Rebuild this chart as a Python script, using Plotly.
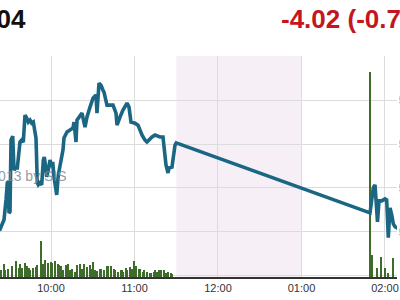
import plotly.graph_objects as go

DAY = "2013-01-07 "

# ---- data ----
price_times = [
    "09:23:00", "09:26:14", "09:27:40", "09:28:36", "09:29:19", "09:29:49", "09:30:32", "09:31:16",
    "09:32:29", "09:33:25", "09:34:51", "09:35:47", "09:37:43", "09:38:56", "09:40:05", "09:41:19",
    "09:42:32", "09:43:41", "09:44:55", "09:46:08", "09:47:17", "09:48:30", "09:49:13", "09:50:10",
    "09:50:52", "09:52:06", "09:53:19", "09:54:28", "09:55:11", "09:56:25", "09:56:55", "09:58:04",
    "09:59:17", "10:00:30", "10:01:13", "10:02:10", "10:02:52", "10:04:06", "10:05:15", "10:06:28",
    "10:07:41", "10:08:37", "10:09:20", "10:11:30", "10:13:39", "10:15:49", "10:16:32", "10:17:58",
    "10:18:41", "10:22:17", "10:24:26", "10:25:52", "10:28:02", "10:30:11", "10:32:20", "10:33:03",
    "10:34:30", "10:35:56", "10:37:22", "10:38:05", "10:40:14", "10:41:41", "10:44:33", "10:46:43",
    "10:47:26", "10:49:35", "10:51:44", "10:54:37", "10:56:03", "10:57:29", "11:00:22", "11:02:31",
    "11:05:23", "11:07:33", "11:08:59", "11:12:35", "11:14:44", "11:18:20", "11:20:29", "11:22:38",
    "11:24:05", "11:24:47", "11:26:57", "11:29:07", "11:30:00",
    "13:49:14", "13:50:27", "13:51:36", "13:52:50", "13:54:03", "13:54:37", "13:55:42", "13:57:38",
    "14:00:00", "14:01:14", "14:02:23", "14:03:37", "14:04:50", "14:05:59", "14:07:12", "14:08:51",
    "14:09:43",
]
price_values = [
    568.05, 568.55, 569.45, 570.23, 570.27, 568.86, 568.91, 572.18,
    572.36, 570.82, 570.91, 570.91, 572.09, 572.18, 572.09, 573.32,
    573.18, 573.00, 573.09, 572.95, 573.00, 572.50, 572.27, 570.23,
    570.14, 570.23, 570.14, 571.27, 571.41, 570.82, 570.50, 570.82,
    571.27, 570.95, 571.18, 570.50, 570.23, 569.68, 570.59, 571.05,
    571.36, 571.73, 572.27, 572.55, 572.64, 572.73, 573.00, 572.09,
    573.09, 573.41, 572.77, 573.23, 573.68, 574.09, 574.23, 573.41,
    574.77, 574.68, 574.45, 574.36, 573.77, 573.77, 573.77, 573.41,
    572.86, 573.23, 573.55, 573.86, 573.68, 573.00, 572.95, 572.86,
    572.41, 572.18, 572.09, 572.32, 572.41, 572.32, 572.32, 571.05,
    570.68, 570.91, 570.95, 571.95, 572.05,
    568.86, 569.45, 570.00, 570.14, 569.23, 568.45, 569.41, 569.41,
    569.50, 569.45, 567.73, 569.09, 568.77, 568.36, 568.23, 568.18,
    568.14,
]

vol_times = [
    "09:24", "09:26", "09:27", "09:29", "09:32", "09:35", "09:37", "09:38", "09:39", "09:41",
    "09:43", "09:44", "09:45", "09:47", "09:49", "09:50", "09:53", "09:54", "09:56", "09:58",
    "10:00", "10:01", "10:03", "10:05", "10:06", "10:07", "10:09", "10:11", "10:12", "10:14",
    "10:15", "10:17", "10:19", "10:21", "10:22", "10:24", "10:26", "10:28", "10:29", "10:30",
    "10:32", "10:33", "10:35", "10:36", "10:38", "10:40", "10:41", "10:43", "10:45", "10:46",
    "10:48", "10:50", "10:51", "10:52", "10:54", "10:55", "10:57", "10:58", "11:00", "11:01",
    "11:03", "11:04", "11:06", "11:07", "11:09", "11:11", "11:12", "11:14", "11:15", "11:16",
    "11:18", "11:19", "11:21", "11:23", "11:24", "11:26", "11:27",
    "13:49", "13:51", "13:54", "13:57", "14:00", "14:02", "14:06",
]
vol_values = [
    73, 133, 73, 83, 113, 160, 93, 133, 93, 143,
    113, 93, 67, 93, 100, 120, 360, 133, 173, 140,
    153, 143, 160, 133, 120, 107, 73, 117, 133, 67,
    83, 53, 117, 127, 83, 133, 100, 120, 83, 153,
    73, 60, 80, 80, 73, 107, 107, 107, 83, 73,
    53, 73, 67, 50, 93, 73, 100, 80, 160, 113,
    80, 80, 47, 73, 53, 40, 40, 53, 67, 50,
    73, 73, 73, 40, 50, 40, 33,
    2050, 220, 90, 200, 90, 40, 190,
]

tick_times = ["10:00", "11:00", "12:00", "13:00", "14:00"]
tick_labels = ["10:00", "11:00", "12:00", "01:00", "02:00"]
price_ticks = [566, 568, 570, 572, 574, 576]
right_label_prices = [574, 572, 570, 568]
lunch_break = ["11:30", "13:00"]
x_window = ["09:23:21", "14:08:38"]
price_window = [565.94, 576.01]
volume_window = [0, 2210]

last_price_text = "568.04"
change_text = "-4.02 (-0.70%)"
watermark_text = "©2013 by SIS"

# ---- figure ----
fig = go.Figure()

fig.add_trace(go.Bar(
    x=[DAY + t for t in vol_times], y=vol_values, yaxis="y",
    marker=dict(color="#3e6d2b", line=dict(width=0)), width=48000,
    showlegend=False, hoverinfo="skip",
))
fig.add_trace(go.Scatter(
    x=[DAY + t for t in price_times], y=price_values, yaxis="y2",
    mode="lines", line=dict(color="#1b6783", width=3.6),
    showlegend=False, hoverinfo="skip",
))

fig.add_shape(type="rect", xref="x", yref="paper",
              x0=DAY + lunch_break[0], x1=DAY + lunch_break[1], y0=0, y1=1,
              fillcolor="#f6f0f6", line=dict(width=0), layer="below")

font_family = "Liberation Sans, Arial, sans-serif"

fig.update_layout(
    width=400, height=300,
    margin=dict(l=0, r=3, t=56, b=23),
    paper_bgcolor="white", plot_bgcolor="white",
    bargap=0,
    xaxis=dict(
        type="date", range=[DAY + x_window[0], DAY + x_window[1]],
        tickvals=[DAY + t for t in tick_times], ticktext=tick_labels,
        showgrid=True, gridcolor="#dcdcdc", gridwidth=1,
        showline=True, linecolor="#333333", linewidth=2,
        ticks="", zeroline=False,
        tickfont=dict(family=font_family, size=11, color="#333333"),
    ),
    yaxis=dict(range=volume_window, visible=False, showgrid=False),
    yaxis2=dict(
        range=price_window, overlaying="y", side="right",
        tickvals=price_ticks, showticklabels=False, ticks="",
        showgrid=True, gridcolor="#dcdcdc", gridwidth=1, zeroline=False,
    ),
)

annotations = [
    dict(text=last_price_text, xref="paper", yref="paper", x=27 / 397, y=(277 - 19) / 221,
         xanchor="right", yanchor="middle", showarrow=False, borderpad=0,
         font=dict(family=font_family, size=26, color="#111111", weight="bold")),
    dict(text=change_text, xref="paper", yref="paper", x=280 / 397, y=(277 - 19) / 221,
         xanchor="left", yanchor="middle", showarrow=False, borderpad=0,
         font=dict(family=font_family, size=26, color="#c4161c", weight="bold")),
    dict(text=watermark_text, xref="paper", yref="paper", x=68 / 397, y=(277 - 176) / 221,
         xanchor="right", yanchor="middle", showarrow=False, borderpad=0,
         font=dict(family=font_family, size=14, color="rgba(125,138,150,0.85)")),
]
for p in right_label_prices:
    annotations.append(dict(text=f"{p:.2f}", xref="paper", yref="y2", x=1, y=p,
                            xanchor="left", yanchor="middle", showarrow=False, borderpad=0,
                            xshift=1,
                            font=dict(family=font_family, size=11, color="#333333")))
fig.update_layout(annotations=annotations)

fig.write_html("out.html")
